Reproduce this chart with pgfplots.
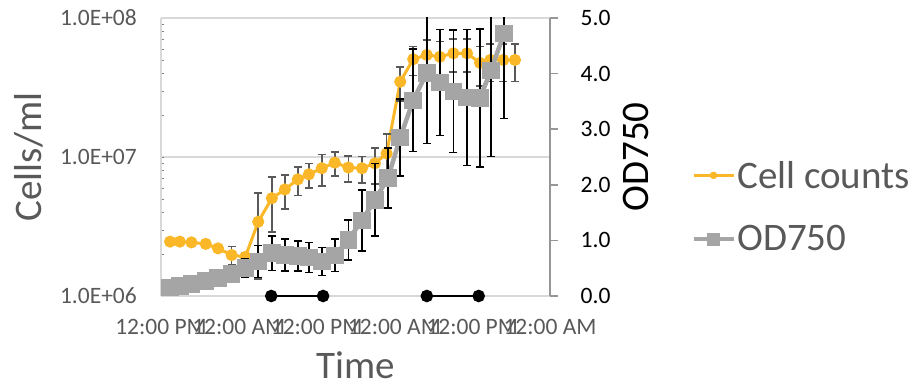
\documentclass[border=0pt]{standalone}
\usepackage{pgfplots}
\usepackage{pgfplotstable}
\pgfplotsset{compat=1.18}
\usepackage{fontspec}
\setmainfont{Carlito}
\definecolor{orangeC}{RGB}{250,184,40}
\definecolor{greyC}{RGB}{165,165,165}
\definecolor{textgrey}{RGB}{89,89,89}
\definecolor{gridgrey}{RGB}{217,217,217}
\definecolor{raxis}{RGB}{150,150,150}

\pgfplotstableread{
t v e
1.4 2.46e6 0.08e6
2.9 2.46e6 0.08e6
4.7 2.43e6 0.08e6
6.9 2.37e6 0.1e6
8.8 2.20e6 0.12e6
10.9 1.97e6 0.3e6
13.0 1.91e6 0.15e6
15.0 3.42e6 2.1e6
17.1 5.05e6 2.15e6
19.1 5.84e6 1.6e6
21.1 6.9e6 1.6e6
22.8 7.5e6 1.5e6
24.8 8.3e6 2.1e6
26.8 9.1e6 1.8e6
28.9 8.4e6 1.8e6
31.0 8.3e6 1.8e6
33.0 9.0e6 2.6e6
34.8 10.6e6 4.0e6
36.9 34.8e6 9.5e6
38.9 50.5e6 12e6
41.0 54.2e6 15e6
43.0 52.6e6 15e6
45.1 55.7e6 15e6
47.2 55.7e6 15e6
49.2 47.5e6 15e6
50.8 49.9e6 15e6
52.8 49.9e6 15e6
54.6 49.9e6 15e6
}\cellcounts

\pgfplotstableread{
t v e
1.4 0.15 0
2.9 0.18 0
4.7 0.22 0
6.9 0.27 0
8.8 0.32 0.03
10.9 0.40 0.12
13.0 0.50 0.16
15.0 0.62 0.29
17.1 0.77 0.31
19.1 0.74 0.29
21.1 0.72 0.27
22.8 0.69 0.27
24.8 0.62 0.25
26.8 0.73 0.29
28.9 1.01 0.36
31.0 1.36 0.55
33.0 1.73 0.65
35.0 2.12 0.54
36.9 2.85 0.69
38.9 3.52 0.92
41.0 4.01 1.27
43.0 3.84 0.95
45.1 3.68 1.1
47.2 3.57 1.22
49.2 3.56 1.24
50.9 4.06 1.55
52.9 4.72 1.53
}\odtable

\pgfplotsset{
  base/.style={
    at={(161pt,91pt)}, anchor=south west,
    width=389pt, height=278pt, scale only axis,
    xmin=0, xmax=60,
  },
}

\begin{document}
\begin{tikzpicture}[x=1pt,y=1pt]
\path[use as bounding box] (0,0) rectangle (916,387);

% primary axis: cell counts (log)
\begin{axis}[base,
  ymode=log, ymin=1e6, ymax=1e8,
  axis x line*=bottom, axis y line*=left,
  axis line style={gridgrey, line width=1.5pt},
  ymajorgrids, grid style={gridgrey, line width=1.5pt},
  major tick length=0pt, minor tick num=0,
  ytick={1e6,1e7,1e8},
  yticklabels={1.0E+06,1.0E+07,1.0E+08},
  xtick={0,12,24,36,48,60},
  xticklabels={12:00 PM,12:00 AM,12:00 PM,12:00 AM,12:00 PM,12:00 AM},
  tick label style={font=\fontsize{23.5}{27}\selectfont, text=textgrey},
  yticklabel style={anchor=east, inner sep=0pt, xshift=-24pt},
  xticklabel style={anchor=base, inner sep=0pt, yshift=-39pt},
  ylabel={Cells/ml},
  ylabel style={at={(axis description cs:-0.306,0.5)}, anchor=base, inner sep=0pt,
    font=\fontsize{39}{47}\selectfont, text=textgrey},
  xlabel={Time},
  xlabel style={at={(axis description cs:0.5,-0.298)}, anchor=base, inner sep=0pt,
    font=\fontsize{39}{47}\selectfont, text=textgrey},
]
\addplot[orangeC, line width=3pt, mark=*, mark size=4.5pt, mark options={solid},
  error bars/.cd, y dir=both, y explicit,
  error bar style={textgrey, line width=1.6pt},
  error mark options={rotate=90, textgrey, mark size=4pt, line width=1.6pt}]
  table[x=t, y=v, y error=e] {\cellcounts};
\end{axis}

% secondary axis: OD750
\begin{axis}[base,
  ymin=0, ymax=5,
  axis y line*=right, axis x line=none,
  y axis line style={raxis, line width=1.5pt},
  ytick={0,1,2,3,4,5},
  yticklabels={0.0,1.0,2.0,3.0,4.0,5.0},
  tick align=outside, major tick length=8pt,
  ytick style={raxis, line width=1.5pt},
  tick label style={font=\fontsize{23.5}{27}\selectfont, text=black},
  yticklabel style={anchor=west, inner sep=0pt, xshift=22.5pt},
  ylabel={OD750},
  ylabel style={at={(axis description cs:1.252,0.5)}, anchor=base, inner sep=0pt,
    font=\fontsize{39}{47}\selectfont, text=black},
  legend style={at={(axis description cs:1.364,0.321)}, anchor=west,
    draw=none, fill=none, inner sep=0pt, row sep=32pt,
    font=\fontsize{39}{47}\selectfont, text=textgrey,
    nodes={inner sep=2pt}},
  legend cell align=left,
]
\addplot[forget plot, greyC, line width=4.5pt, mark=square*, mark size=6.5pt, mark options={solid},
  error bars/.cd, y dir=both, y explicit,
  error bar style={black, line width=1.6pt},
  error mark options={rotate=90, black, mark size=4pt, line width=1.6pt}]
  table[x=t, y=v, y error=e] {\odtable};
\addlegendimage{legend image code/.code={
  \draw[orangeC, line width=3pt] (0pt,0pt) -- (40pt,0pt);
  \fill[orangeC] (20pt,0pt) circle (3.5pt);}}
\addlegendentry{Cell counts}
\addlegendimage{legend image code/.code={
  \draw[greyC, line width=3.5pt] (0pt,0pt) -- (40pt,0pt);
  \fill[greyC] (14pt,-6pt) rectangle (26pt,6pt);}}
\addlegendentry{OD750}
\end{axis}

% dark periods
\begin{axis}[base, ymin=0, ymax=5, hide axis, clip=false]
\addplot[black, line width=2.5pt, mark=*, mark size=5pt] coordinates {(17,0) (25,0)};
\addplot[black, line width=2.5pt, mark=*, mark size=5pt] coordinates {(41,0) (49,0)};
\end{axis}
\end{tikzpicture}
\end{document}
